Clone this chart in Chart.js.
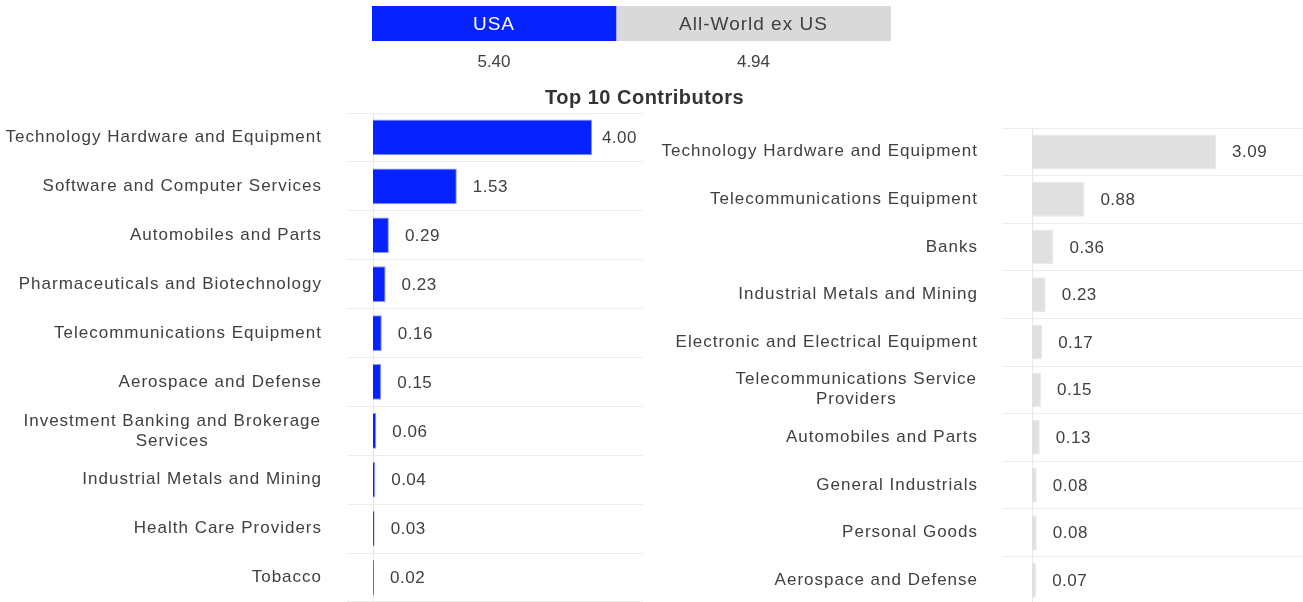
<!DOCTYPE html>
<html>
<head>
<meta charset="utf-8">
<script src="https://cdn.jsdelivr.net/npm/chart.js@4.4.1/dist/chart.umd.min.js"></script>
<style>
  html, body { margin: 0; padding: 0; background: #fff; }
  body { width: 1303px; height: 602px; position: relative; overflow: hidden; }
  .box { position: absolute; }
</style>
</head>
<body>
<div class="box" style="left:0;top:0;width:1303px;height:110px"><canvas id="headChart"></canvas></div>
<div class="box" style="left:0;top:108px;width:643px;height:496px"><canvas id="usaChart"></canvas></div>
<div class="box" style="left:660px;top:120px;width:643px;height:486px"><canvas id="worldChart"></canvas></div>
<script>
// --- Data ---
const regions = ['USA', 'All-World ex US'];
const regionTotals = [5.40, 4.94];
const regionShares = [47, 53]; // widths of the two header segments
const chartTitle = 'Top 10 Contributors';

const usaSectors = [
  'Technology Hardware and Equipment',
  'Software and Computer Services',
  'Automobiles and Parts',
  'Pharmaceuticals and Biotechnology',
  'Telecommunications Equipment',
  'Aerospace and Defense',
  ['Investment Banking and Brokerage', 'Services'],
  'Industrial Metals and Mining',
  'Health Care Providers',
  'Tobacco'
];
const usaValues = [4.00, 1.53, 0.29, 0.23, 0.16, 0.15, 0.06, 0.04, 0.03, 0.02];

const worldSectors = [
  'Technology Hardware and Equipment',
  'Telecommunications Equipment',
  'Banks',
  'Industrial Metals and Mining',
  'Electronic and Electrical Equipment',
  ['Telecommunications Service', 'Providers'],
  'Automobiles and Parts',
  'General Industrials',
  'Personal Goods',
  'Aerospace and Defense'
];
const worldValues = [3.09, 0.88, 0.36, 0.23, 0.17, 0.15, 0.13, 0.08, 0.08, 0.07];

const BLUE = '#0522FF';
const BLUE_EDGE = '#8A98FF';
const GREY_HEAD = '#D9D9D9';
const GREY_BAR = '#E0E0E0';
const TEXT = '#404040';
const LINE = '#EDEDED';
const FONT = '"Liberation Sans", Arial, sans-serif';

// --- Header: stacked bar with labels, totals and title ---
const headerText = {
  id: 'headerText',
  afterDatasetsDraw(chart) {
    const ctx = chart.ctx;
    ctx.save();
    ctx.textAlign = 'center';
    ctx.textBaseline = 'middle';
    chart.data.datasets.forEach((ds, i) => {
      const bar = chart.getDatasetMeta(i).data[0];
      const cx = (bar.x + bar.base) / 2;
      ctx.font = '19px ' + FONT;
      ctx.letterSpacing = '1px';
      ctx.fillStyle = i === 0 ? '#ffffff' : TEXT;
      ctx.fillText(regions[i], cx, bar.y + 1);
      ctx.font = '17px ' + FONT;
      ctx.letterSpacing = '0px';
      ctx.fillStyle = TEXT;
      ctx.fillText(regionTotals[i].toFixed(2), cx, 62);
    });
    const area = chart.chartArea;
    ctx.font = 'bold 20px ' + FONT;
    ctx.letterSpacing = '0.5px';
    ctx.fillStyle = '#333333';
    ctx.fillText(chartTitle, (area.left + area.right) / 2 + 13, 98);
    ctx.restore();
  }
};

new Chart(document.getElementById('headChart'), {
  type: 'bar',
  data: {
    labels: ['Region'],
    datasets: regions.map((r, i) => ({
      label: r,
      data: [regionShares[i]],
      backgroundColor: i === 0 ? BLUE : GREY_HEAD,
      borderWidth: 0,
      barPercentage: 1,
      categoryPercentage: 1
    }))
  },
  options: {
    indexAxis: 'y',
    responsive: true,
    maintainAspectRatio: false,
    animation: false,
    layout: { padding: { left: 372, right: 412, top: 6, bottom: 69 } },
    plugins: { legend: { display: false }, tooltip: { enabled: false } },
    scales: {
      x: { stacked: true, display: false, min: 0, max: regionShares[0] + regionShares[1] },
      y: { stacked: true, display: false }
    }
  },
  plugins: [headerText]
});

// --- Contributor charts ---
const sideText = {
  id: 'sideText',
  afterDraw(chart, args, opts) {
    const ctx = chart.ctx;
    const yScale = chart.scales.y;
    const area = chart.chartArea;
    ctx.save();
    ctx.font = '17px ' + FONT;
    ctx.letterSpacing = '1px';
    ctx.fillStyle = TEXT;
    ctx.textBaseline = 'middle';
    // category labels
    chart.data.labels.forEach((lab, i) => {
      const y = yScale.getPixelForValue(i);
      const right = area.left - opts.labelGap;
      if (Array.isArray(lab)) {
        const w = Math.max(...lab.map(l => ctx.measureText(l).width));
        ctx.textAlign = 'center';
        lab.forEach((line, k) => {
          ctx.fillText(line, right - w / 2, y + (k - (lab.length - 1) / 2) * 20);
        });
      } else {
        ctx.textAlign = 'right';
        ctx.fillText(lab, right + 1, y);
      }
    });
    // value labels
    ctx.textAlign = 'left';
    ctx.letterSpacing = '0.5px';
    const meta = chart.getDatasetMeta(0);
    meta.data.forEach((bar, i) => {
      const txt = chart.data.datasets[0].data[i].toFixed(2);
      const w = ctx.measureText(txt).width;
      let x = bar.x + 16;
      if (x + w > area.right - 6) x = area.right - 6 - w;
      ctx.fillText(txt, x, bar.y + 1);
    });
    ctx.restore();
  }
};

const makeContributors = (canvasId, labels, values, color, edge, xMax, axisWidth, tickLen, labelGap, padTop) => {
  return new Chart(document.getElementById(canvasId), {
    type: 'bar',
    data: {
      labels: labels,
      datasets: [{
        data: values,
        backgroundColor: color,
        borderColor: edge,
        borderWidth: 1,
        barPercentage: 0.73,
        categoryPercentage: 1
      }]
    },
    options: {
      indexAxis: 'y',
      responsive: true,
      maintainAspectRatio: false,
      animation: false,
      layout: { padding: { left: 0, right: 0, top: padTop, bottom: 2 } },
      plugins: { legend: { display: false }, tooltip: { enabled: false }, sideText: { labelGap: labelGap } },
      scales: {
        x: { display: false, min: 0, max: xMax },
        y: {
          afterFit: (scale) => { scale.width = axisWidth; },
          ticks: { display: false },
          grid: { color: LINE, lineWidth: 1, offset: true, drawTicks: true, tickLength: tickLen, tickColor: LINE },
          border: { display: true, color: '#E6E6E6', width: 1 }
        }
      }
    },
    plugins: [sideText]
  });
};

makeContributors('usaChart', usaSectors, usaValues, BLUE, BLUE_EDGE, 4.93, 373, 26, 52, 5);
makeContributors('worldChart', worldSectors, worldValues, GREY_BAR, '#E8E8E8', 4.55, 372, 30, 55, 8);
</script>
</body>
</html>
